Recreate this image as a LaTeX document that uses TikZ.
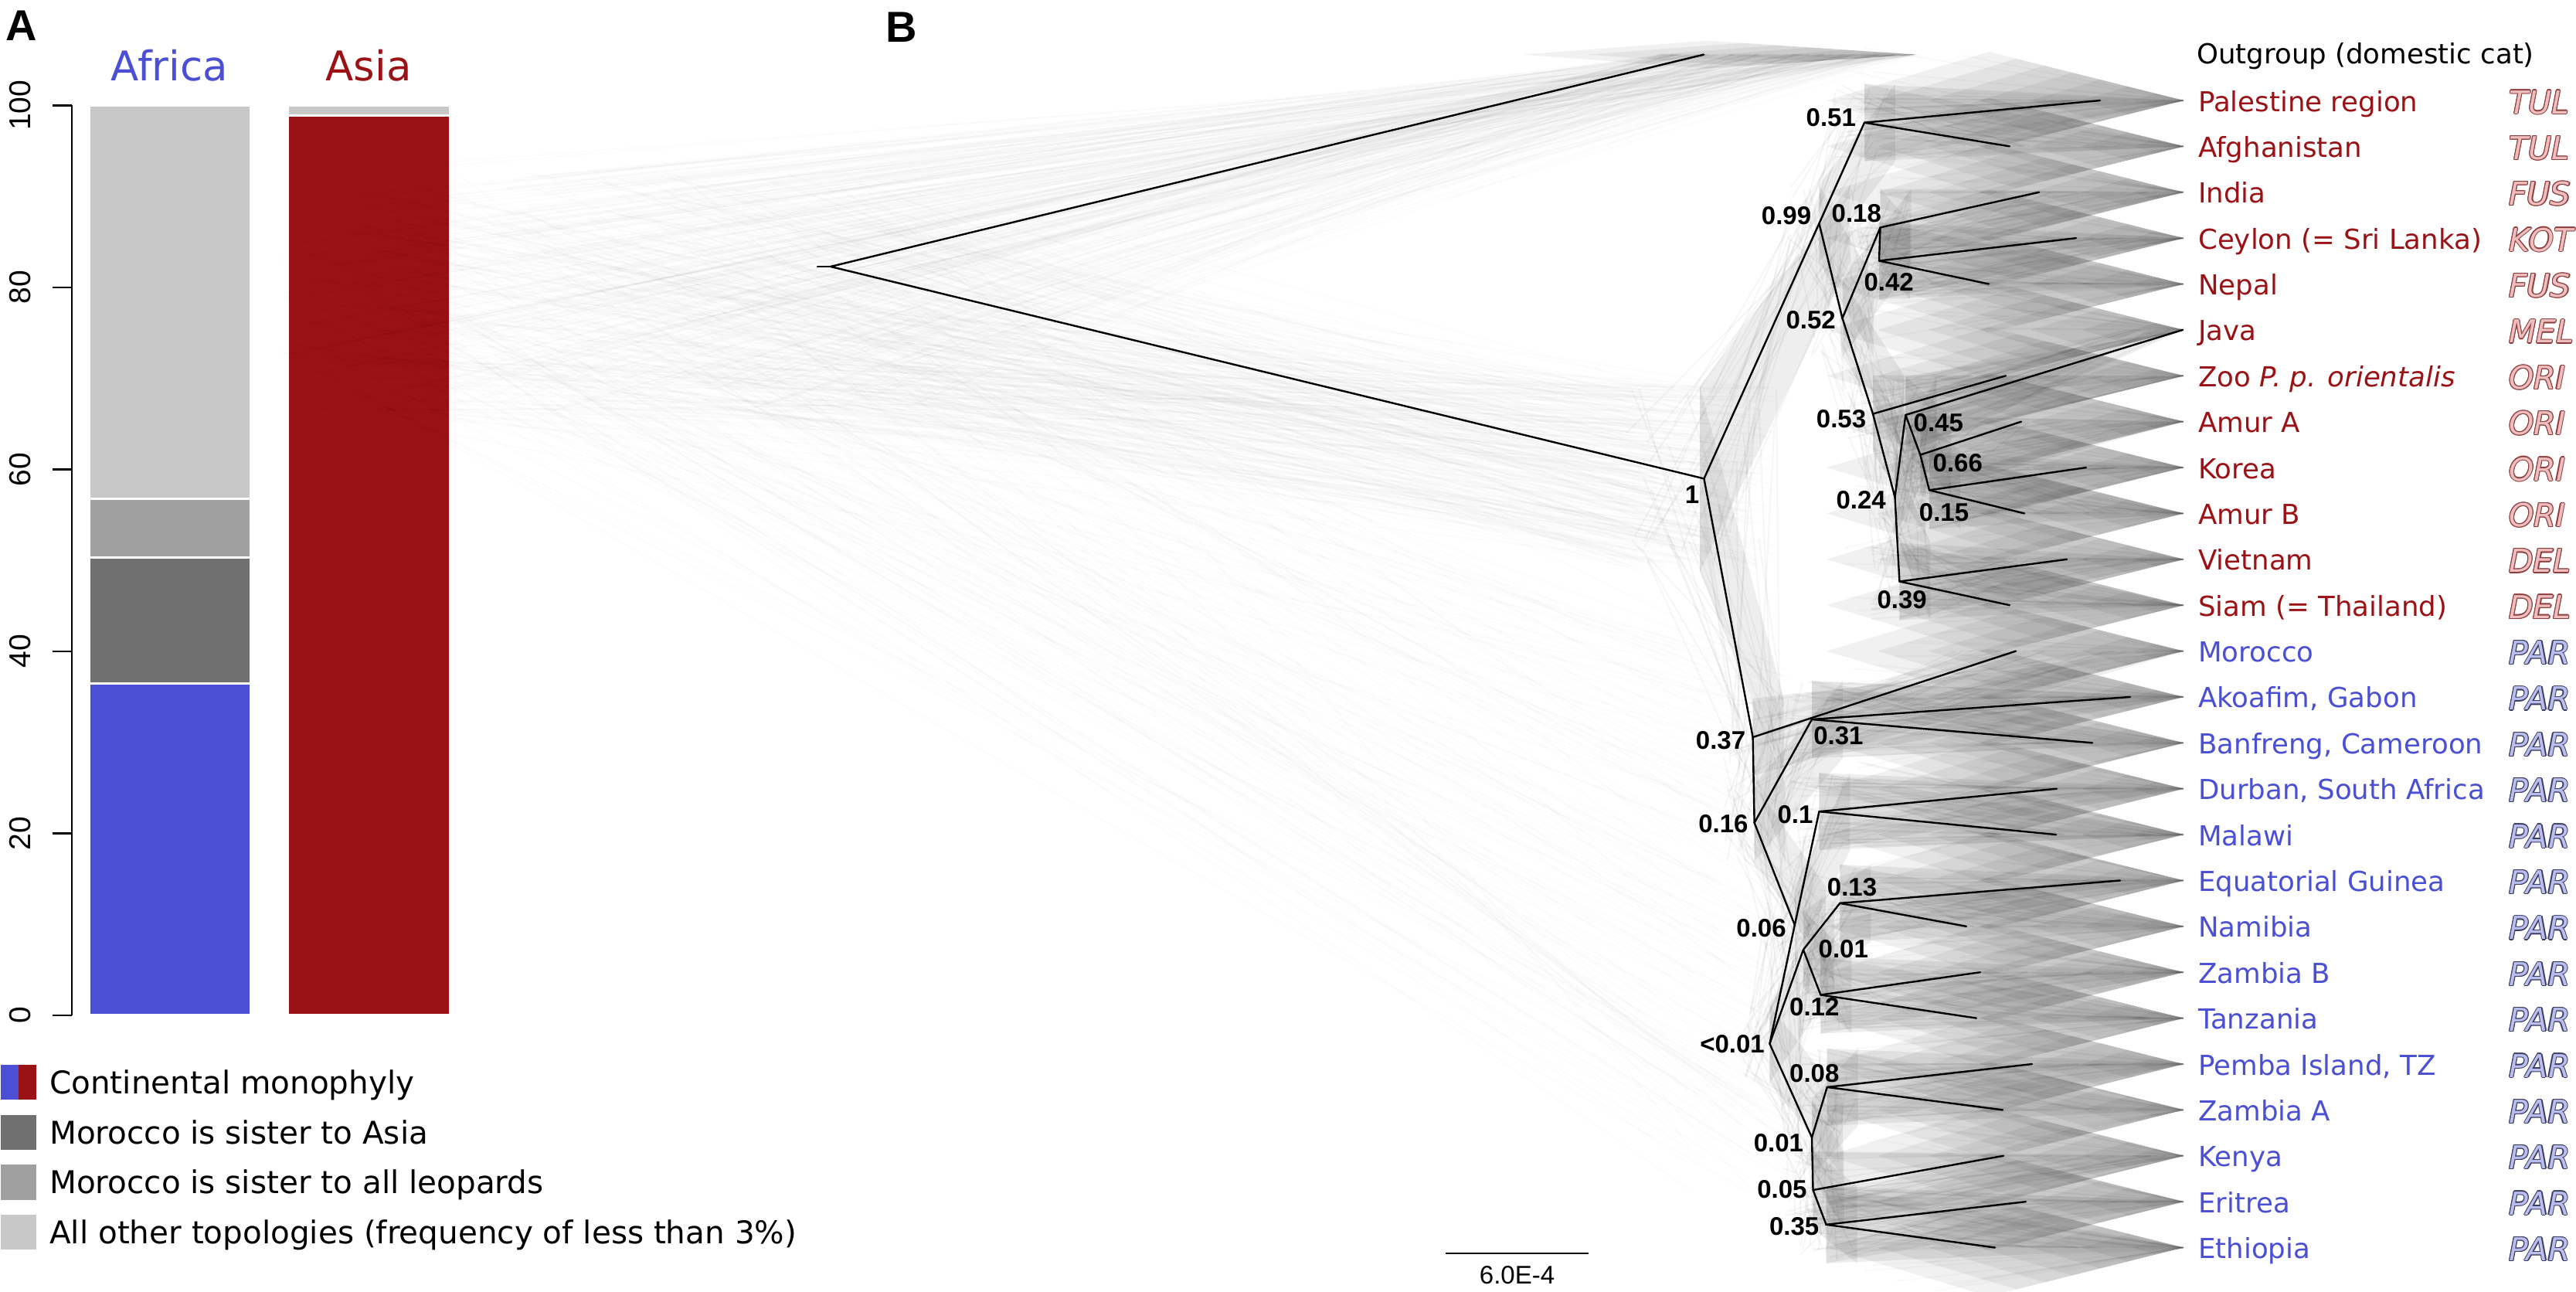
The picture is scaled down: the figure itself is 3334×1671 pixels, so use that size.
\documentclass[tikz,border=0pt]{standalone}
\usepackage{fontspec}
\setmainfont{DejaVu Sans}
\newfontfamily\hv{Liberation Sans}
\usetikzlibrary{calc}
\newcommand\setfs[1]{\fontsize{#1}{#1}\selectfont}
\definecolor{afblue}{RGB}{74,79,212}
\definecolor{asred}{RGB}{155,18,22}
\definecolor{dgray}{RGB}{112,112,112}
\definecolor{mgray}{RGB}{160,160,160}
\definecolor{lgray}{RGB}{200,200,200}
\definecolor{asT}{RGB}{155,18,22}
\definecolor{asL}{RGB}{140,60,60}
\definecolor{asF}{RGB}{238,190,190}
\definecolor{afT}{RGB}{74,79,212}
\definecolor{afL}{RGB}{60,60,95}
\definecolor{afF}{RGB}{185,190,238}
\newlength\ow
\setlength\ow{1.2pt}
\newsavebox\holbox
\newcommand\hollow[3]{%
  \setbox\holbox\hbox{#3}%
  \rlap{\color{#1}\kern\ow\copy\holbox}%
  \rlap{\color{#1}\kern-\ow\copy\holbox}%
  \rlap{\color{#1}\raise\ow\copy\holbox}%
  \rlap{\color{#1}\lower\ow\copy\holbox}%
  \rlap{\color{#1}\kern.7\ow\raise.7\ow\copy\holbox}%
  \rlap{\color{#1}\kern-.7\ow\raise.7\ow\copy\holbox}%
  \rlap{\color{#1}\kern.7\ow\lower.7\ow\copy\holbox}%
  \rlap{\color{#1}\kern-.7\ow\lower.7\ow\copy\holbox}%
  {\color{#2}\copy\holbox}}
\newcommand\hzdef[5]{%
  \expandafter\xdef\csname hzX#1\endcsname{#2}%
  \expandafter\xdef\csname hzY#1\endcsname{#3}%
  \expandafter\xdef\csname hzJX#1\endcsname{#4}%
  \expandafter\xdef\csname hzJY#1\endcsname{#5}}
\tikzset{
  tiplab/.style={font=\setfs{35.6}, anchor=base west, inner sep=0pt},
  codelab/.style={font=\setfs{41}\itshape, anchor=base west, inner sep=0pt},
  sup/.style={font=\hv\bfseries\setfs{33}, inner sep=0pt, anchor=center},
  treeline/.style={line width=2.4pt, black, line cap=round, line join=round},
  hazefill/.style={fill=black, fill opacity=0.065},
  fanfill/.style={fill=black, fill opacity=0.055},
  hazeline/.style={draw=black, draw opacity=0.035, line width=2pt},
  fanline/.style={draw=black, draw opacity=0.022, line width=2pt},
  rootline/.style={draw=black, draw opacity=0.012, line width=2pt},
  axislab/.style={font=\hv\setfs{39}, rotate=90, anchor=base, inner sep=0pt},
  legtext/.style={font=\setfs{40.5}, anchor=base west, inner sep=0pt},
  bar/.style={draw=white, line width=3pt}
}
\newcommand\tip[5]{%
  \pgfmathsetmacro\ty{130+59.38*#1}%
  \pgfmathsetmacro\hx{(#2-80+2826)/2}%
  \pgfmathsetmacro\hj{2826-#2+80}%
  \hzdef{t#1}{\hx}{\ty}{\hj}{0}%
  \coordinate (t#1) at (#2,\ty);
  \node[tiplab, text=#5T] (lab#1) at (2845,{\ty+14}) {#3};
  \node[codelab] (code#1) at (3247,{\ty+17}) {\hollow{#5L}{#5F}{#4}};
}
\newcommand\innode[5]{%
  \hzdef{#1}{#2}{#3}{#4}{#5}%
  \coordinate (#1) at (#2,#3);
}
\begin{document}
\begin{tikzpicture}[x=1pt,y=-1pt]
\useasboundingbox (0,0) rectangle (3334,1671);
\fill[white] (0,0) rectangle (3334,1671);

% ---------------- Panel A ----------------
\node[font=\hv\bfseries\setfs{56}, anchor=base west, inner sep=0pt] (labA) at (7,52) {A};
\node[font=\setfs{53}, text=afblue, anchor=base, inner sep=0pt] (tAfrica) at (219.5,104) {Africa};
\node[font=\setfs{53}, text=asred, anchor=base, inner sep=0pt] (tAsia) at (477,104) {Asia};

\coordinate (ax0) at (93,1313.9);
\coordinate (ax100) at (93,136.4);
\draw[line width=2.8pt] (ax0) -- (ax100);
\foreach \v/\yy in {0/1313.9, 20/1078.4, 40/842.9, 60/607.4, 80/371.9, 100/136.4}{
  \coordinate (tk\v) at (68,\yy);
  \coordinate (tm\v) at (93,\yy);
  \draw[line width=2.8pt] (tk\v) -- (tm\v);
  \node[axislab] (al\v) at (39,\yy) {\v};
}
% Africa bar
\fill[afblue, bar] (115,1313.9) rectangle (324,884.1);
\fill[dgray, bar] (115,884.1) rectangle (324,721.6);
\fill[mgray, bar] (115,721.6) rectangle (324,645.1);
\fill[lgray, bar] (115,645.1) rectangle (324,136.4);
% Asia bar
\fill[asred, bar] (372,1313.9) rectangle (582,149.4);
\fill[lgray, bar] (372,149.4) rectangle (582,136.4);

% legend
\fill[afblue] (1,1378) rectangle (24,1423);
\fill[asred] (24,1378) rectangle (47,1423);
\fill[dgray] (1,1443) rectangle (47,1488);
\fill[mgray] (1,1507) rectangle (47,1553);
\fill[lgray] (1,1572) rectangle (47,1617);
\node[legtext] (lg1) at (64,1415.6) {Continental monophyly};
\node[legtext] (lg2) at (64,1480.2) {Morocco is sister to Asia};
\node[legtext] (lg3) at (64,1544.8) {Morocco is sister to all leopards};
\node[legtext] (lg4) at (64,1609.4) {All other topologies (frequency of less than 3\%)};

% ---------------- Panel B ----------------
\node[font=\hv\bfseries\setfs{56}, anchor=base west, inner sep=0pt] (labB) at (1146,54) {B};

\node[tiplab] (labOG) at (2843,82) {Outgroup (domestic cat)};
\tip{0}{2718}{Palestine region}{TUL}{as}
\tip{1}{2601}{Afghanistan}{TUL}{as}
\tip{2}{2639}{India}{FUS}{as}
\tip{3}{2687}{Ceylon (= Sri Lanka)}{KOT}{as}
\tip{4}{2574}{Nepal}{FUS}{as}
\tip{5}{2825}{Java}{MEL}{as}
\tip{6}{2596}{Zoo \textit{P. p. orientalis}}{ORI}{as}
\tip{7}{2616}{Amur A}{ORI}{as}
\tip{8}{2700}{Korea}{ORI}{as}
\tip{9}{2620}{Amur B}{ORI}{as}
\tip{10}{2675}{Vietnam}{DEL}{as}
\tip{11}{2601}{Siam (= Thailand)}{DEL}{as}
\tip{12}{2609}{Morocco}{PAR}{af}
\tip{13}{2757}{Akoafim, Gabon}{PAR}{af}
\tip{14}{2708}{Banfreng, Cameroon}{PAR}{af}
\tip{15}{2662}{Durban, South Africa}{PAR}{af}
\tip{16}{2661}{Malawi}{PAR}{af}
\tip{17}{2744}{Equatorial Guinea}{PAR}{af}
\tip{18}{2545}{Namibia}{PAR}{af}
\tip{19}{2563}{Zambia B}{PAR}{af}
\tip{20}{2558}{Tanzania}{PAR}{af}
\tip{21}{2630}{Pemba Island, TZ}{PAR}{af}
\tip{22}{2592}{Zambia A}{PAR}{af}
\tip{23}{2593}{Kenya}{PAR}{af}
\tip{24}{2622}{Eritrea}{PAR}{af}
\tip{25}{2582}{Ethiopia}{PAR}{af}

% internal nodes
\coordinate (stub) at (1058,345);
\innode{root}{1075}{345}{0}{0}
\hzdef{rootc}{780}{380}{840}{320}
\innode{og}{2205}{70.6}{0}{0}
\hzdef{ogc}{2320}{70.6}{340}{0}
\hzdef{deep}{2250}{1200}{220}{700}
\innode{n1}{2205.4}{619.4}{0}{0}
\hzdef{n1c}{2200}{620}{200}{240}
\innode{n99}{2354.4}{289.2}{80}{100}
\innode{n51}{2413}{158.7}{80}{100}
\innode{n52}{2384.5}{411.8}{80}{100}
\innode{n18}{2433.5}{294.4}{80}{100}
\innode{n42}{2432}{337.5}{80}{100}
\innode{n53}{2424}{535.6}{80}{100}
\innode{n24}{2452.5}{643.5}{80}{100}
\innode{n45}{2466.3}{537}{80}{100}
\innode{n66}{2485.3}{588.6}{80}{100}
\innode{n15}{2497}{634.3}{80}{100}
\innode{n39}{2458.4}{752.5}{80}{100}
\innode{n37}{2268.6}{954}{80}{100}
\innode{n16}{2270.6}{1064.8}{80}{100}
\innode{n31}{2345}{931}{80}{100}
\innode{n06}{2322.8}{1197}{80}{100}
\innode{n10}{2354.4}{1050.2}{80}{100}
\innode{nlt}{2290.4}{1350.7}{80}{100}
\innode{nu}{2333.9}{1229}{80}{100}
\innode{n13}{2381.3}{1168.8}{80}{100}
\innode{n12}{2356.4}{1287.5}{80}{100}
\innode{nl}{2345}{1472}{80}{100}
\innode{n08}{2364.7}{1406.9}{80}{100}
\innode{n05}{2346.5}{1540}{80}{100}
\innode{n35}{2363.5}{1584.8}{80}{100}

% ---- haze (posterior tree cloud) ----
% tip fans: stacked kites (soft taper, no vertical edges)
\foreach \k in {0,...,25}{
  \pgfmathsetmacro\ty{130+59.38*\k}
  \foreach \j in {1,...,7}{
    \fill[fanfill] (2826,\ty) -- ({2826-36*\j},{\ty-9*\j}) -- ({2826-66*\j},\ty) -- ({2826-36*\j},{\ty+9*\j}) -- cycle;
  }
}
\foreach \j in {1,...,6}{
  \fill[fanfill] (2480,70.6) -- ({2480-45*\j},{70.6-3*\j}) -- ({2480-85*\j},70.6) -- ({2480-45*\j},{70.6+3*\j}) -- cycle;
}
\pgfmathsetseed{12}
% fan streaks
\foreach \k in {0,...,25}{
  \pgfmathsetmacro\ty{130+59.38*\k}
  \foreach \i in {1,...,22}{
    \pgfmathsetmacro\xa{2380+420*rnd}
    \pgfmathsetmacro\ya{\ty+(2826-\xa)*0.25*(2*rnd-1)}
    \draw[fanline] (\xa,\ya) -- (2826,\ty);
  }
}
\foreach \pa/\ch/\nn/\ww in {rootc/ogc/300/0, rootc/n1c/300/0, rootc/deep/130/0,
  n1c/n99/25/1, n1c/n37/25/1,
  n99/n51/20/1, n51/t0/20/1, n51/t1/20/1,
  n99/n52/20/1, n52/n18/20/1, n18/t2/20/1, n18/n42/15/1, n42/t3/20/1, n42/t4/20/1,
  n52/n53/20/1, n53/t6/20/1, n53/n24/20/1, n24/n45/20/1, n45/t5/20/1, n45/n66/20/1,
  n66/t7/20/1, n66/n15/20/1, n15/t8/20/1, n15/t9/20/1,
  n24/n39/20/1, n39/t10/20/1, n39/t11/20/1,
  n37/t12/20/1, n37/n16/20/1, n16/n31/20/1, n31/t13/20/1, n31/t14/20/1,
  n16/n06/20/1, n06/n10/20/1, n10/t15/20/1, n10/t16/20/1,
  n06/nlt/20/1, nlt/nu/20/1, nu/n13/20/1, n13/t17/20/1, n13/t18/20/1,
  nu/n12/20/1, n12/t19/20/1, n12/t20/20/1,
  nlt/nl/20/1, nl/n08/20/1, n08/t21/20/1, n08/t22/20/1, nl/n05/20/1,
  n05/t23/20/1, n05/n35/20/1, n35/t24/20/1, n35/t25/20/1}{
  \edef\PX{\csname hzX\pa\endcsname}%
  \edef\PY{\csname hzY\pa\endcsname}%
  \edef\PJX{\csname hzJX\pa\endcsname}%
  \edef\PJY{\csname hzJY\pa\endcsname}%
  \edef\CX{\csname hzX\ch\endcsname}%
  \edef\CY{\csname hzY\ch\endcsname}%
  \edef\CJX{\csname hzJX\ch\endcsname}%
  \edef\CJY{\csname hzJY\ch\endcsname}%
  \ifnum\ww=1
    \pgfmathsetmacro\CXR{\CX+\CJX/2}%
    \fill[hazefill] ({\PX},{\PY-\PJY/2}) -- ({\CXR},{\CY-\CJY/2}) -- ({\CXR},{\CY+\CJY/2}) -- ({\PX},{\PY+\PJY/2}) -- cycle;
  \fi
  \foreach \i in {1,...,\nn}{
    \pgfmathsetmacro\xa{\PX+\PJX*(rnd-0.5)}%
    \pgfmathsetmacro\ya{\PY+\PJY*(rnd-0.5)}%
    \pgfmathsetmacro\xb{\CX+\CJX*(rnd-0.5)}%
    \pgfmathsetmacro\yb{\CY+\CJY*(rnd-0.5)}%
    \ifnum\ww=1
      \draw[hazeline] (\xa,\ya) -- (\xb,\yb);
    \else
      \draw[rootline] (\xa,\ya) -- (\xb,\yb);
    \fi
  }
}

% ---- consensus tree ----
\draw[treeline] (stub) -- (root);
\foreach \a/\b in {root/og, root/n1, n1/n99, n1/n37,
  n99/n51, n51/t0, n51/t1, n99/n52, n52/n18, n18/t2, n18/n42, n42/t3, n42/t4,
  n52/n53, n53/t6, n53/n24, n24/n45, n45/t5, n45/n66, n66/t7, n66/n15, n15/t8, n15/t9,
  n24/n39, n39/t10, n39/t11,
  n37/t12, n37/n16, n16/n31, n31/t13, n31/t14, n16/n06, n06/n10, n10/t15, n10/t16,
  n06/nlt, nlt/nu, nu/n13, n13/t17, n13/t18, nu/n12, n12/t19, n12/t20,
  nlt/nl, nl/n08, n08/t21, n08/t22, nl/n05, n05/t23, n05/n35, n35/t24, n35/t25}{
  \draw[treeline] (\a) -- (\b);
}

% support values
\node[sup] (s1) at (2190,640) {1};
\node[sup] (s99) at (2312,279.3) {0.99};
\node[sup] (s51) at (2369.8,152) {0.51};
\node[sup] (s18) at (2402.8,276.2) {0.18};
\node[sup] (s42) at (2444.7,365.1) {0.42};
\node[sup] (s52) at (2343.6,413.8) {0.52};
\node[sup] (s53) at (2383,542.3) {0.53};
\node[sup] (s45) at (2508.8,547) {0.45};
\node[sup] (s66) at (2533.8,599.6) {0.66};
\node[sup] (s24) at (2408.6,647) {0.24};
\node[sup] (s15) at (2516,662.7) {0.15};
\node[sup] (s39) at (2461.6,776.2) {0.39};
\node[sup] (s37) at (2227,958) {0.37};
\node[sup] (s31) at (2379.4,952) {0.31};
\node[sup] (s16) at (2230.4,1066) {0.16};
\node[sup] (s10) at (2323.5,1053.8) {0.1};
\node[sup] (s06) at (2279.5,1201.3) {0.06};
\node[sup] (s13) at (2397,1147.9) {0.13};
\node[sup] (s01u) at (2385.8,1228.1) {0.01};
\node[sup] (s12) at (2348.3,1302.9) {0.12};
\node[sup] (slt) at (2242,1350.7) {<0.01};
\node[sup] (s08) at (2348.3,1389.1) {0.08};
\node[sup] (s01l) at (2301.9,1479.2) {0.01};
\node[sup] (s05) at (2306.4,1539.3) {0.05};
\node[sup] (s35) at (2322.2,1587.6) {0.35};

% scale bar
\coordinate (sbL) at (1871,1622);
\coordinate (sbR) at (2056,1622);
\draw[line width=2.5pt] (sbL) -- (sbR);
\node[font=\hv\setfs{33}, anchor=base, inner sep=0pt] (sblab) at (1963.5,1661) {6.0E-4};
\end{tikzpicture}
\end{document}
